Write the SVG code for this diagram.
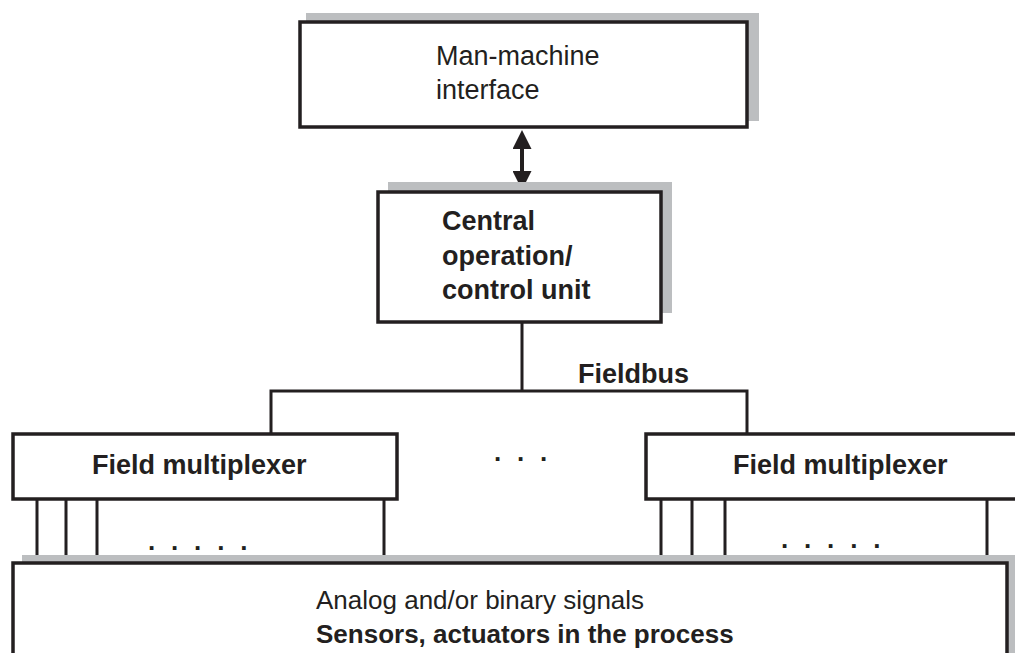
<svg xmlns="http://www.w3.org/2000/svg" width="1015" height="653" viewBox="0 0 1015 653">
<style>
.shadow{fill:#bcbec0;stroke:none}
.box{fill:#ffffff;stroke:#231f20;stroke-width:3.5}
.line{stroke:#231f20;stroke-width:3;fill:none}
.reg{font-family:"Liberation Sans",Arial,sans-serif;font-size:27px;fill:#231f20}
.bold{font-family:"Liberation Sans",Arial,sans-serif;font-size:27px;font-weight:bold;fill:#231f20}
.dots{font-family:"Liberation Sans",Arial,sans-serif;font-size:26px;font-weight:bold;fill:#231f20;letter-spacing:4.3px}
</style>
<defs>
<marker id="ah" viewBox="0 0 10 10" refX="0" refY="5" markerWidth="4.75" markerHeight="4.75" markerUnits="strokeWidth" orient="auto-start-reverse">
<path d="M0,0 L10,5 L0,10 Z" fill="#231f20"/>
</marker>
</defs>
<rect width="1015" height="653" fill="#ffffff"/>
<g id="connectors">
<line class="line" x1="522" y1="149" x2="522" y2="171" style="stroke-width:4" marker-start="url(#ah)" marker-end="url(#ah)"/>
<path class="line" d="M522,322 V391 M271,434 V391 H747 V434"/>
<path class="line" d="M37,499 V563 M66,499 V563 M97,499 V563 M384,499 V563"/>
<path class="line" d="M661,499 V563 M692,499 V563 M725,499 V563 M987,499 V563"/>
</g>
<g id="process">
<rect class="shadow" x="22" y="555" width="1000" height="110"/>
<rect class="box" x="13" y="563" width="994" height="110"/>
<text class="reg" x="316" y="609" style="font-size:26px">Analog and/or binary signals</text>
<text class="bold" x="316" y="643" style="font-size:26px">Sensors, actuators in the process</text>
</g>
<g id="mmi">
<rect class="shadow" x="306" y="13" width="453" height="108"/>
<rect class="box" x="300" y="22" width="447" height="105"/>
<text class="reg" x="436" y="65">Man-machine</text>
<text class="reg" x="436" y="99">interface</text>
</g>
<g id="central">
<rect class="shadow" x="388" y="182" width="284" height="131"/>
<rect class="box" x="378" y="192" width="283" height="130"/>
<text class="bold" x="442" y="230">Central</text>
<text class="bold" x="442" y="265">operation/</text>
<text class="bold" x="442" y="299">control unit</text>
</g>
<text id="fieldbus" class="bold" x="578" y="383">Fieldbus</text>
<g id="mux-left">
<rect class="box" x="13" y="434" width="384" height="65"/>
<text class="bold" x="92" y="474">Field multiplexer</text>
</g>
<g id="mux-right">
<rect class="box" x="646" y="434" width="400" height="65"/>
<text class="bold" x="733" y="474">Field multiplexer</text>
</g>
<text class="dots" x="494" y="461">. . .</text>
<text class="dots" x="148" y="550">. . . . .</text>
<text class="dots" x="781" y="548">. . . . .</text>
</svg>
